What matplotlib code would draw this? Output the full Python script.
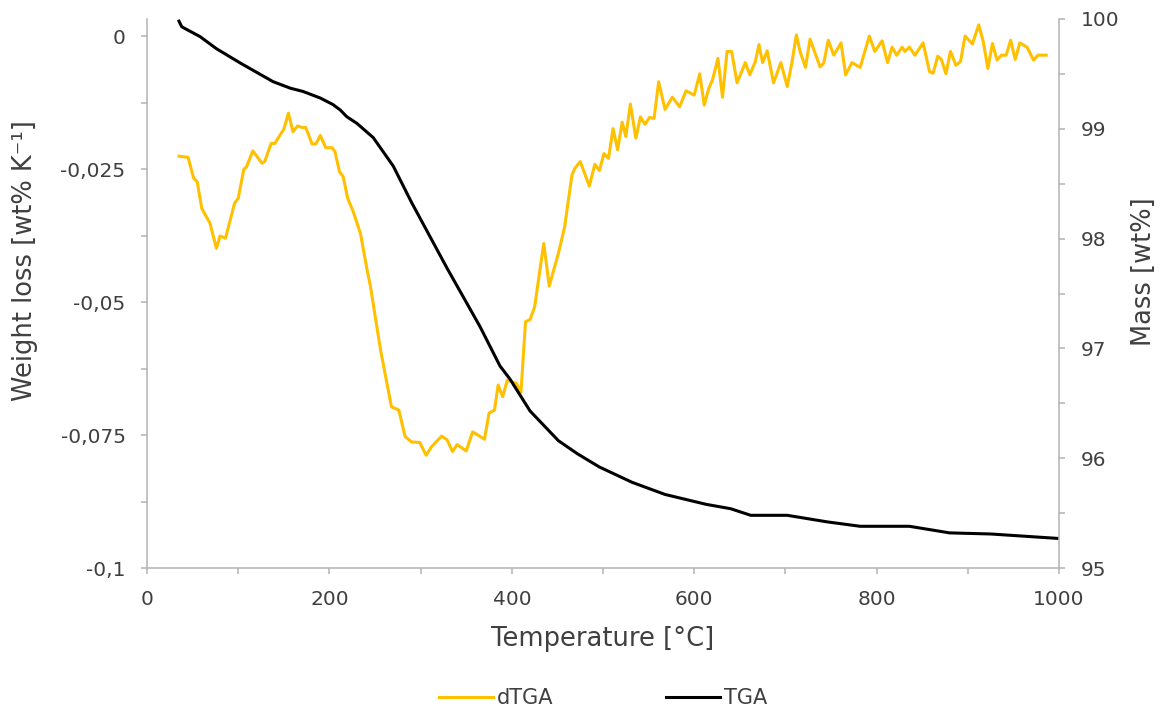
import matplotlib
matplotlib.use("Agg")
import matplotlib.pyplot as plt
from matplotlib.lines import Line2D

# =============================================================================
# Data
# =============================================================================

# dTGA curve: temperature [°C] and weight loss [wt% K-1]
dtga_temp = [35, 45, 51, 55, 60, 69, 76, 80, 86, 96, 100, 106, 109, 116, 126,
             129, 136, 140, 150, 155, 160, 165, 170, 174, 181, 185, 190, 196,
             203, 206, 211, 215, 220, 226, 234, 241, 245, 256, 268, 276, 283,
             290, 299, 306, 312, 323, 329, 335, 340, 350, 357, 370, 375, 381,
             385, 390, 395, 405, 410, 415, 420, 425, 435, 441, 451, 458, 462,
             466, 469, 475, 485, 491, 496, 501, 506, 511, 516, 521, 525, 530,
             536, 541, 546, 551, 556, 561, 568, 576, 584, 591, 600, 606, 611,
             616, 620, 626, 631, 636, 641, 647, 656, 661, 667, 671, 675, 680,
             687, 695, 702, 707, 712, 716, 722, 727, 734, 738, 742, 747, 753,
             761, 766, 773, 782, 792, 798, 806, 812, 817, 822, 828, 831, 836,
             842, 851, 858, 862, 867, 871, 876, 881, 887, 892, 897, 905, 912,
             917, 922, 927, 932, 937, 942, 947, 952, 957, 965, 972, 977, 986]
dtga_loss = [-0.0226, -0.0228, -0.0267, -0.0274, -0.0324, -0.0352, -0.0399,
             -0.0376, -0.0380, -0.0314, -0.0305, -0.0251, -0.0246, -0.0216,
             -0.0239, -0.0236, -0.0202, -0.0202, -0.0175, -0.0145, -0.0180,
             -0.0169, -0.0172, -0.0172, -0.0203, -0.0203, -0.0187, -0.0210,
             -0.0210, -0.0217, -0.0255, -0.0264, -0.0305, -0.0330, -0.0371,
             -0.0437, -0.0471, -0.0590, -0.0697, -0.0703, -0.0753, -0.0763,
             -0.0764, -0.0788, -0.0772, -0.0752, -0.0759, -0.0781, -0.0768,
             -0.0780, -0.0744, -0.0758, -0.0709, -0.0703, -0.0656, -0.0678,
             -0.0647, -0.0653, -0.0670, -0.0537, -0.0533, -0.0509, -0.0390,
             -0.0470, -0.0409, -0.0358, -0.0308, -0.0261, -0.0249, -0.0236,
             -0.0282, -0.0241, -0.0253, -0.0221, -0.0230, -0.0174, -0.0214,
             -0.0162, -0.0189, -0.0128, -0.0192, -0.0152, -0.0166, -0.0153,
             -0.0155, -0.0086, -0.0138, -0.0115, -0.0133, -0.0103, -0.0111,
             -0.0071, -0.0130, -0.0098, -0.0083, -0.0042, -0.0115, -0.0029,
             -0.0029, -0.0088, -0.0050, -0.0073, -0.0048, -0.0016, -0.0050,
             -0.0028, -0.0088, -0.0050, -0.0095, -0.0051, 0.0002, -0.0029,
             -0.0059, -0.0006, -0.0039, -0.0058, -0.0051, -0.0008, -0.0036,
             -0.0013, -0.0073, -0.0050, -0.0059, 0.0000, -0.0029, -0.0009,
             -0.0050, -0.0021, -0.0036, -0.0021, -0.0029, -0.0021, -0.0036,
             -0.0013, -0.0067, -0.0070, -0.0038, -0.0044, -0.0071, -0.0029,
             -0.0055, -0.0048, 0.0000, -0.0015, 0.0021, -0.0011, -0.0061,
             -0.0014, -0.0045, -0.0036, -0.0036, -0.0008, -0.0044, -0.0013,
             -0.0021, -0.0045, -0.0036, -0.0036]

# TGA curve: temperature [°C] and mass [wt%]
tga_temp = [35, 38, 40, 58, 76, 102, 138, 157, 171, 190, 204, 212, 219, 230,
            248, 270, 290, 329, 365, 387, 398, 420, 451, 472, 496, 532, 568,
            613, 640, 662, 702, 746, 782, 836, 880, 925, 998]
tga_mass = [99.98, 99.93, 99.92, 99.84, 99.73, 99.60, 99.43, 99.37, 99.34,
            99.28, 99.22, 99.17, 99.11, 99.05, 98.92, 98.66, 98.33, 97.73,
            97.20, 96.84, 96.72, 96.43, 96.16, 96.04, 95.92, 95.78, 95.67,
            95.58, 95.54, 95.48, 95.48, 95.42, 95.38, 95.38, 95.32, 95.31,
            95.27]

x_ticks = [0, 200, 400, 600, 800, 1000]
x_labels = ['0', '200', '400', '600', '800', '1000']
left_ticks = [0, -0.025, -0.05, -0.075, -0.1]
left_labels = ['0', '-0,025', '-0,05', '-0,075', '-0,1']
right_ticks = [95, 96, 97, 98, 99, 100]
right_labels = ['95', '96', '97', '98', '99', '100']

# =============================================================================
# Styling
# =============================================================================

YELLOW = '#FFC000'
BLACK = '#000000'
AXIS_GREY = '#B3B3B3'
TEXT = '#404040'

plt.rcParams['font.family'] = ['DejaVu Sans']

fig = plt.figure(figsize=(11.69, 7.11), dpi=100)
ax = fig.add_axes([0.1258, 0.2011, 0.7801, 0.7722])
ax2 = ax.twinx()

ax.plot(dtga_temp, dtga_loss, color=YELLOW, lw=2.2, solid_joinstyle='round')
ax2.plot(tga_temp, tga_mass, color=BLACK, lw=2.2, solid_joinstyle='round')

ax.set_xlim(0, 1000)
ax.set_ylim(-0.1, 0.0032)
ax2.set_ylim(95, 100)

# ticks: labelled majors plus unlabelled minors in between
ax.set_xticks(x_ticks)
ax.set_xticklabels(x_labels)
ax.set_xticks([100, 300, 500, 700, 900], minor=True)
ax.set_yticks(left_ticks)
ax.set_yticklabels(left_labels)
ax.set_yticks([-0.0125, -0.0375, -0.0625, -0.0875], minor=True)
ax2.set_yticks(right_ticks)
ax2.set_yticklabels(right_labels)
ax2.set_yticks([95.5, 96.5, 97.5, 98.5, 99.5], minor=True)

for a in (ax, ax2):
    a.spines['top'].set_visible(False)
    for side in ('left', 'right', 'bottom'):
        a.spines[side].set_color(AXIS_GREY)
        a.spines[side].set_linewidth(1.1)
    a.tick_params(which='both', direction='out', length=4.5, width=1.1,
                  color=AXIS_GREY, labelcolor=TEXT, labelsize=14.5, pad=11)
ax.spines['right'].set_visible(False)
ax2.spines['left'].set_visible(False)
ax2.spines['bottom'].set_visible(False)

# axis titles
ax.text(-0.134, 0.56, 'Weight loss [wt% K\u207b\u00b9]',
        transform=ax.transAxes, rotation=90, ha='center', va='center',
        fontsize=18.5, color=TEXT)
ax.text(1.093, 0.54, 'Mass [wt%]', transform=ax.transAxes, rotation=90,
        ha='center', va='center', fontsize=18.5, color=TEXT)
ax.text(0.5, -0.13, 'Temperature [°C]', transform=ax.transAxes,
        ha='center', va='center', fontsize=18.5, color=TEXT)

handles = [Line2D([], [], color=YELLOW, lw=2.2),
           Line2D([], [], color=BLACK, lw=2.2)]
leg = fig.legend(handles, ['dTGA', 'TGA'], loc='center',
                 bbox_to_anchor=(603 / 1169, 1 - 698 / 711), ncol=2,
                 frameon=False, fontsize=15, handlelength=2.6,
                 handletextpad=0.2, columnspacing=5.4)
for t in leg.get_texts():
    t.set_color(TEXT)

fig.savefig('out.png', dpi=100)
